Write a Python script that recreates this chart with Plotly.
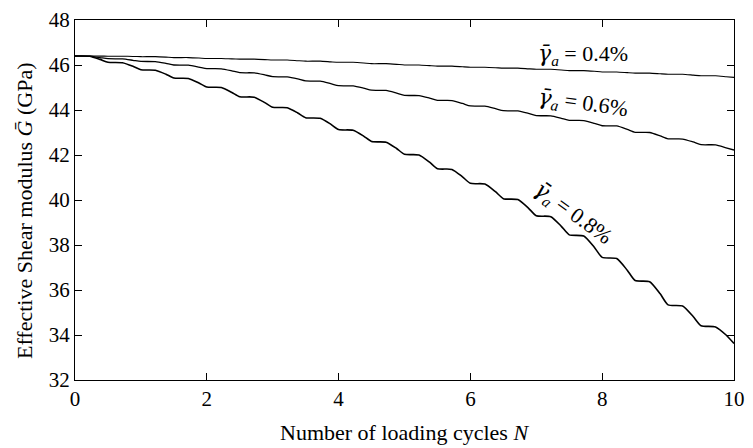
import plotly.graph_objects as go

# Sampling positions within each half cycle (offset from k/2)
half_cycles = [k * 0.5 for k in range(20)]
offsets = [0.0, 0.22, 0.38]
N_end = 10.0

# gamma_a = 0.4 %
g04_start = [46.40, 46.39, 46.37, 46.33, 46.29, 46.26, 46.22, 46.17, 46.12, 46.06,
             46.00, 45.95, 45.90, 45.86, 45.81, 45.75, 45.69, 45.64, 45.59, 45.52]
g04_plat_end = [46.40, 46.39, 46.37, 46.33, 46.29, 46.26, 46.22, 46.17, 46.12, 46.06,
                46.00, 45.95, 45.90, 45.86, 45.81, 45.75, 45.69, 45.64, 45.59, 45.52]
g04_mid = [46.395, 46.38, 46.35, 46.31, 46.27, 46.24, 46.19, 46.14, 46.09, 46.03,
           45.97, 45.92, 45.88, 45.83, 45.78, 45.72, 45.66, 45.61, 45.55, 45.48]
g04_last = 45.45

# gamma_a = 0.6 %
g06_start = [46.40, 46.28, 46.16, 46.00, 45.84, 45.66, 45.48, 45.29, 45.08, 44.88,
             44.65, 44.43, 44.18, 43.97, 43.75, 43.54, 43.30, 43.01, 42.72, 42.46]
g06_plat_end = [46.39, 46.27, 46.15, 45.99, 45.83, 45.65, 45.47, 45.28, 45.07, 44.87,
                44.64, 44.42, 44.17, 43.96, 43.74, 43.53, 43.29, 43.00, 42.71, 42.45]
g06_mid = [46.33, 46.21, 46.07, 45.91, 45.74, 45.56, 45.38, 45.17, 44.97, 44.75,
           44.53, 44.29, 44.06, 43.85, 43.63, 43.41, 43.14, 42.85, 42.58, 42.32]
g06_last = 42.22

# gamma_a = 0.8 %
g08_start = [46.40, 46.12, 45.79, 45.42, 45.02, 44.59, 44.12, 43.66, 43.13, 42.60,
             42.03, 41.39, 40.74, 40.06, 39.30, 38.45, 37.45, 36.42, 35.34, 34.41]
g08_plat_end = [46.39, 46.10, 45.77, 45.40, 45.00, 44.57, 44.10, 43.63, 43.10, 42.57,
                42.00, 41.36, 40.71, 40.02, 39.26, 38.40, 37.40, 36.37, 35.29, 34.36]
g08_mid = [46.25, 45.94, 45.59, 45.20, 44.78, 44.33, 43.87, 43.37, 42.84, 42.29,
           41.68, 41.03, 40.37, 39.64, 38.83, 37.90, 36.88, 35.83, 34.82, 34.00]
g08_last = 33.62

GAMMA = ('<span style="font-family:\'DejaVu Serif\'"><i>γ\u0304</i></span>'
         '<sub><i>a</i></sub>')
labels = [GAMMA + " = 0.4%", GAMMA + " = 0.6%", GAMMA + " = 0.8%"]
x_ticks = [0, 2, 4, 6, 8, 10]
y_ticks = [32, 34, 36, 38, 40, 42, 44, 46, 48]


def build(start, plat_end, mid, last):
    xs, ys = [], []
    for h, a, b, c in zip(half_cycles, start, plat_end, mid):
        for off, v in zip(offsets, (a, b, c)):
            xs.append(h + off)
            ys.append(v)
    xs.append(N_end)
    ys.append(last)
    return xs, ys


FONT = "'Liberation Serif', 'DejaVu Serif', serif"
fig = go.Figure()
series = [
    (g04_start, g04_plat_end, g04_mid, g04_last, 1.1),
    (g06_start, g06_plat_end, g06_mid, g06_last, 1.3),
    (g08_start, g08_plat_end, g08_mid, g08_last, 1.6),
]
for s, pe, m, l, w in series:
    xs, ys = build(s, pe, m, l)
    fig.add_trace(go.Scatter(x=xs, y=ys, mode="lines",
                             line=dict(color="black", width=w, shape="spline", smoothing=0.6),
                             showlegend=False, hoverinfo="skip"))

# curve labels
label_pos = [(7.71, 46.45, 0), (7.71, 44.28, 8), (7.56, 39.4, 36)]
for txt, (lx, ly, ang) in zip(labels, label_pos):
    fig.add_annotation(x=lx, y=ly, xref="x", yref="y", text=txt, showarrow=False,
                       textangle=ang, font=dict(family=FONT, size=22, color="black"))

# axis titles
fig.add_annotation(x=0.5, y=0, xref="paper", yref="paper", yshift=-52,
                   text="Number of loading cycles <i>N</i>", showarrow=False,
                   xanchor="center", yanchor="middle",
                   font=dict(family=FONT, size=22, color="black"))
fig.add_annotation(x=0, y=0.5, xref="paper", yref="paper", xshift=-51, yshift=-11,
                   text="Effective Shear modulus <i>Ḡ</i> (GPa)", showarrow=False,
                   textangle=-90, xanchor="center", yanchor="middle",
                   font=dict(family=FONT, size=22, color="black"))

axis_common = dict(showgrid=False, zeroline=False, showline=True, linecolor="black",
                   linewidth=1.3, mirror="allticks", ticks="inside", ticklen=7,
                   tickwidth=1, tickcolor="black", ticklabeloverflow="allow",
                   tickfont=dict(family=FONT, size=21, color="black"))
fig.update_xaxes(range=[0, 10], tickvals=x_ticks, ticktext=[str(v) for v in x_ticks],
                 **axis_common)
fig.update_yaxes(range=[32, 48], tickvals=y_ticks, ticktext=[str(v) for v in y_ticks],
                 **axis_common)

fig.update_layout(width=753, height=448, margin=dict(l=75, r=13, t=8, b=68),
                  plot_bgcolor="white", paper_bgcolor="white",
                  font=dict(family=FONT, size=20, color="black"))

fig.write_html("out.html", config={"displayModeBar": False},
               post_script="document.body.style.margin='0';document.body.style.overflow='hidden';")
